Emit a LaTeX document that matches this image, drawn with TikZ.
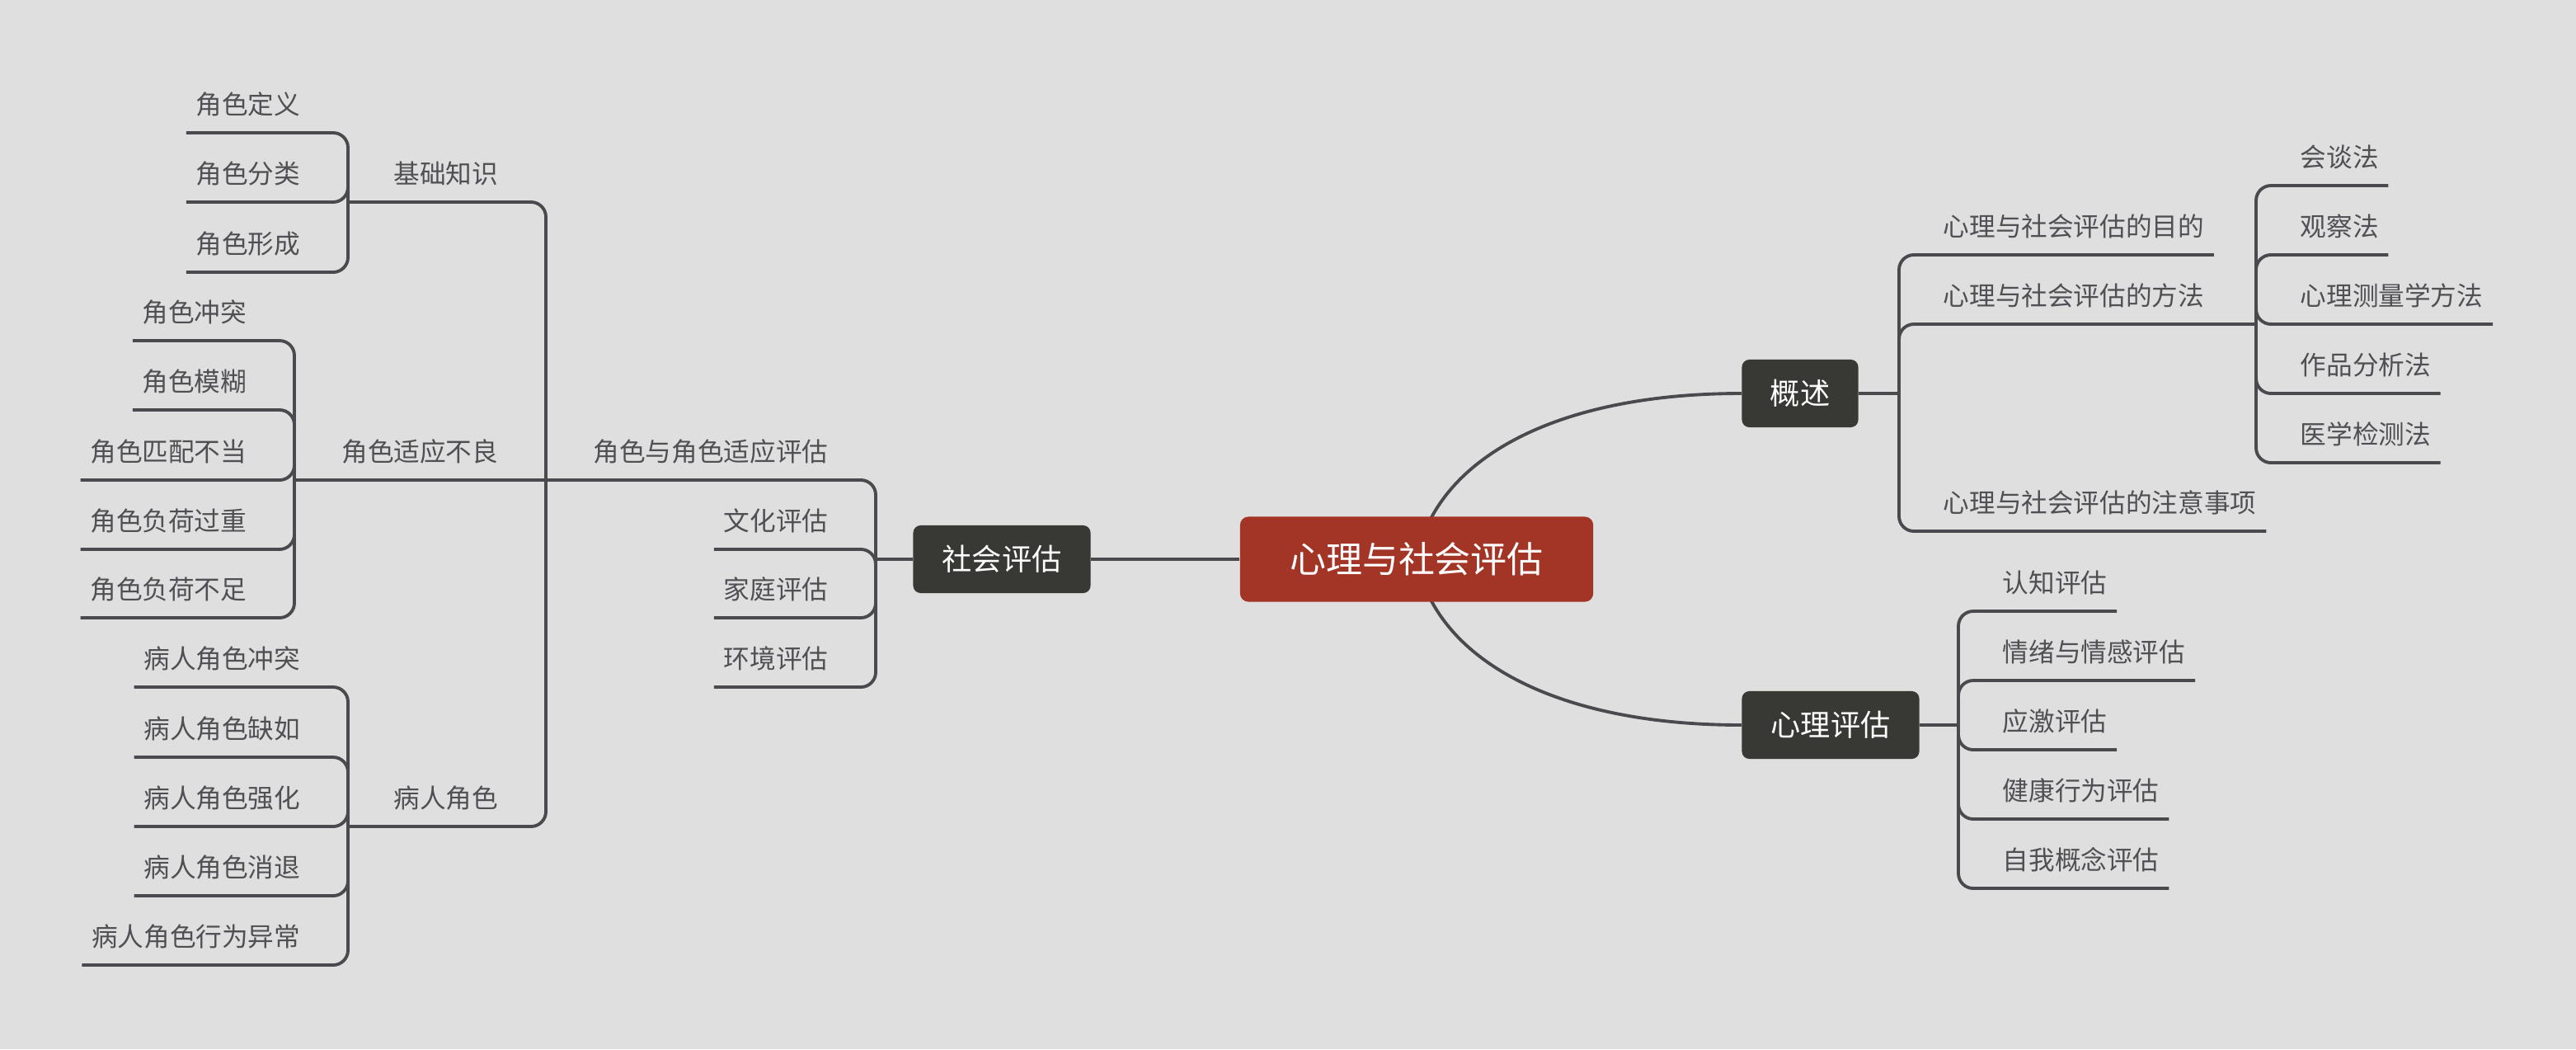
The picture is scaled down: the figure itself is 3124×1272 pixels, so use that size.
\documentclass[tikz,border=0pt]{standalone}
\usepackage{fontspec}
\setmainfont{Noto Sans CJK SC}
\usetikzlibrary{calc}

\definecolor{bgcol}{HTML}{DFDFDF}
\definecolor{linecol}{HTML}{4A4A4E}
\definecolor{txtcol}{HTML}{505054}
\definecolor{rootcol}{HTML}{A33526}
\definecolor{topiccol}{HTML}{383934}

\pgfdeclarelayer{back}
\pgfdeclarelayer{edges}
\pgfsetlayers{back,edges,main}

\begin{document}
\begin{tikzpicture}[
    x=0.01cm, y=-0.01cm,
    root/.style={rectangle, rounded corners=0.1cm, fill=rootcol, text=white, font=\fontsize{12.5pt}{15pt}\selectfont, minimum width=4.28cm, minimum height=1.03cm},
    topic/.style={rectangle, rounded corners=0.09cm, fill=topiccol, text=white, font=\fontsize{10.3pt}{12pt}\selectfont, minimum height=0.82cm},
    leaf/.style={text=txtcol, font=\fontsize{9pt}{11pt}\selectfont, inner xsep=0.11cm, inner ysep=0pt, text depth=0.22cm},
    leafR/.style={leaf, anchor=south west},
    leafL/.style={leaf, anchor=south east},
    conn/.style={draw=linecol, line width=1.1pt},
    branch/.style={conn, rounded corners=0.18cm}
]

% -------- Canvas --------
\begin{pgfonlayer}{back}
\fill[bgcol] (0,0) rectangle (3124,1272);
\end{pgfonlayer}
\useasboundingbox (0,0) rectangle (3124,1272);

% -------- Bracket x positions --------
\def\xS{1062}    % social
\def\xR{662}     % role adaptation
\def\xB{422}     % basics / patient role
\def\xA{357}     % maladaptation
\def\xO{2303}    % overview
\def\xM{2736}    % methods
\def\xP{2375}    % psychological

% -------- Main topics --------
\node[root] (root) at (1718,678) {心理与社会评估};
\node[topic, minimum width=2.15cm] (social) at (1215,678) {社会评估};
\node[topic, minimum width=1.41cm] (over) at (2183,477) {概述};
\node[topic, minimum width=2.15cm] (psy) at (2220,879) {心理评估};

\begin{pgfonlayer}{edges}
\draw[conn] (root.center) .. controls +(22,-117) and +(-233,0) .. (over.west);
\draw[conn] (root.center) .. controls +(22,117) and +(-233,0) .. (psy.west);
\draw[conn] (social.east) -- (root.west);
\end{pgfonlayer}

% -------- Social (left) --------
\coordinate (sj) at (\xS,678);
\coordinate (rj) at (\xR,582);
\draw[conn] (social.west) -- (sj);

\node[leafL] (rolefit) at (\xS-46,582) {角色与角色适应评估};
\draw[branch] (sj) |- (rj);

\foreach \t/\y [count=\i] in {文化评估/666, 家庭评估/749, 环境评估/833} {
    \node[leafL] (s\i) at (\xS-46,\y) {\t};
    \draw[branch] (sj) |- (s\i.south west);
}

% role adaptation
\coordinate (bj) at (\xB,245);
\coordinate (aj) at (\xA,582);
\coordinate (pj) at (\xB,1002);

\node[leafL] (basic) at (\xR-46,245) {基础知识};
\node[leafL] (maladapt) at (\xR-46,582) {角色适应不良};
\node[leafL] (patient) at (\xR-46,1002) {病人角色};
\draw[branch] (rj) |- (bj);
\draw[branch] (rj) -- (aj);
\draw[branch] (rj) |- (pj);

\foreach \t/\y [count=\i] in {角色定义/161, 角色分类/245, 角色形成/330} {
    \node[leafL] (b\i) at (\xB-46,\y) {\t};
    \draw[branch] (bj) |- (b\i.south west);
}

\foreach \t/\y [count=\i] in {角色冲突/413, 角色模糊/497, 角色匹配不当/582, 角色负荷过重/666, 角色负荷不足/749} {
    \node[leafL] (a\i) at (\xA-46,\y) {\t};
    \draw[branch] (aj) |- (a\i.south west);
}

\foreach \t/\y [count=\i] in {病人角色冲突/833, 病人角色缺如/918, 病人角色强化/1002, 病人角色消退/1086, 病人角色行为异常/1170} {
    \node[leafL] (p\i) at (\xB-46,\y) {\t};
    \draw[branch] (pj) |- (p\i.south west);
}

% -------- Overview (right) --------
\coordinate (oj) at (\xO,477);
\coordinate (mj) at (\xM,393);
\draw[conn] (over.east) -- (oj);

\node[leafR] (o1) at (\xO+42,309) {心理与社会评估的目的};
\node[leafR] (o2) at (\xO+42,393) {心理与社会评估的方法};
\node[leafR] (o3) at (\xO+42,644) {心理与社会评估的注意事项};
\draw[branch] (oj) |- (o1.south east);
\draw[branch] (oj) |- (mj);
\draw[branch] (oj) |- (o3.south east);

\foreach \t/\y [count=\i] in {会谈法/225, 观察法/309, 心理测量学方法/393, 作品分析法/477, 医学检测法/561} {
    \node[leafR] (m\i) at (\xM+42,\y) {\t};
    \draw[branch] (mj) |- (m\i.south east);
}

% -------- Psychological (right) --------
\coordinate (xj) at (\xP,879);
\draw[conn] (psy.east) -- (xj);

\foreach \t/\y [count=\i] in {认知评估/741, 情绪与情感评估/825, 应激评估/909, 健康行为评估/993, 自我概念评估/1077} {
    \node[leafR] (x\i) at (\xP+42,\y) {\t};
    \draw[branch] (xj) |- (x\i.south east);
}

\end{tikzpicture}
\end{document}
